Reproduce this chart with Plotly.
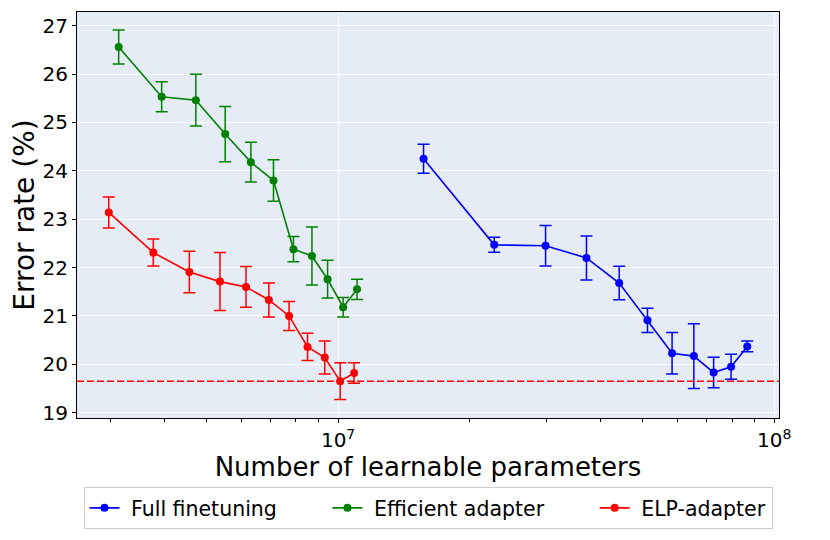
import plotly.graph_objects as go

# Full finetuning
ff_x = [1.57e7, 2.28e7, 2.99e7, 3.71e7, 4.41e7, 5.12e7, 5.83e7, 6.54e7, 7.26e7, 7.96e7, 8.67e7]
ff_y = [24.25, 22.47, 22.45, 22.20, 21.68, 20.91, 20.23, 20.17, 19.83, 19.95, 20.37]
ff_e = [0.30, 0.155, 0.42, 0.455, 0.345, 0.25, 0.43, 0.67, 0.315, 0.26, 0.11]

# Efficient adapter
ea_x = [3.14e6, 3.94e6, 4.72e6, 5.51e6, 6.31e6, 7.11e6, 7.90e6, 8.71e6, 9.46e6, 1.027e7, 1.105e7]
ea_y = [26.56, 25.53, 25.46, 24.76, 24.18, 23.80, 22.38, 22.24, 21.76, 21.18, 21.55]
ea_e = [0.35, 0.31, 0.535, 0.57, 0.41, 0.43, 0.26, 0.60, 0.39, 0.20, 0.21]

# ELP-adapter
elp_x = [2.98e6, 3.77e6, 4.56e6, 5.36e6, 6.15e6, 6.94e6, 7.72e6, 8.51e6, 9.32e6, 1.011e7, 1.088e7]
elp_y = [23.14, 22.31, 21.91, 21.71, 21.60, 21.33, 21.00, 20.36, 20.14, 19.65, 19.82]
elp_e = [0.32, 0.28, 0.43, 0.60, 0.42, 0.35, 0.30, 0.28, 0.34, 0.38, 0.21]

best_line = 19.65

x_major = [1e7, 1e8]
x_major_text = ["10<sup>7</sup>", "10<sup>8</sup>"]
x_minor = [3e6, 4e6, 5e6, 6e6, 7e6, 8e6, 9e6, 2e7, 3e7, 4e7, 5e7, 6e7, 7e7, 8e7, 9e7]
y_ticks = [19, 20, 21, 22, 23, 24, 25, 26, 27]

series = [
    ("Full finetuning", ff_x, ff_y, ff_e, "#0000ff"),
    ("Efficient adapter", ea_x, ea_y, ea_e, "#008000"),
    ("ELP-adapter", elp_x, elp_y, elp_e, "#ff0000"),
]

NB = "\u00a0"
fig = go.Figure()
for i, (name, xs, ys, es, col) in enumerate(series):
    label = NB + name + (NB * 7 if i < len(series) - 1 else "")
    fig.add_trace(go.Scatter(
        x=xs, y=ys, name=label, mode="lines+markers",
        line=dict(color=col, width=1.6),
        marker=dict(color=col, size=8),
        error_y=dict(type="data", array=es, visible=True, color=col, thickness=1.5, width=6),
    ))

fig.add_shape(type="line", xref="paper", x0=0, x1=1, yref="y", y0=best_line, y1=best_line,
              line=dict(color="#ff0000", width=1.5, dash="7px,3px"))

fig.update_layout(
    width=830, height=540,
    margin=dict(l=69, r=59, t=4, b=130),
    paper_bgcolor="white",
    plot_bgcolor="#e5ecf6",
    font=dict(family="DejaVu Sans", color="black", size=20),
    showlegend=True,
    legend=dict(orientation="h", x=0.5, xanchor="center", y=-0.17, yanchor="top",
                bordercolor="#cccccc", borderwidth=1, bgcolor="white",
                font=dict(size=20.5)),
)
fig.update_xaxes(
    type="log", range=[6.4014, 8.0108],
    tickmode="array", tickvals=x_major, ticktext=x_major_text,
    ticks="outside", ticklen=4, tickcolor="black",
    showgrid=True, gridcolor="white", gridwidth=1.3,
    showline=True, linecolor="black", linewidth=1.2, mirror=True,
    minor=dict(tickmode="array", tickvals=x_minor, ticks="outside", ticklen=2.5,
               tickcolor="black", showgrid=False),
    title=dict(text="Number of learnable parameters", font=dict(size=26), standoff=4),
    tickfont=dict(size=20), zeroline=False,
)
fig.update_yaxes(
    range=[18.89, 27.284],
    tickmode="array", tickvals=y_ticks,
    ticks="outside", ticklen=4, tickcolor="black",
    showgrid=True, gridcolor="white", gridwidth=1.3,
    showline=True, linecolor="black", linewidth=1.2, mirror=True,
    title=dict(text="Error rate (%)", font=dict(size=28), standoff=6),
    tickfont=dict(size=20), zeroline=False,
)

fig.write_html("out.html")
